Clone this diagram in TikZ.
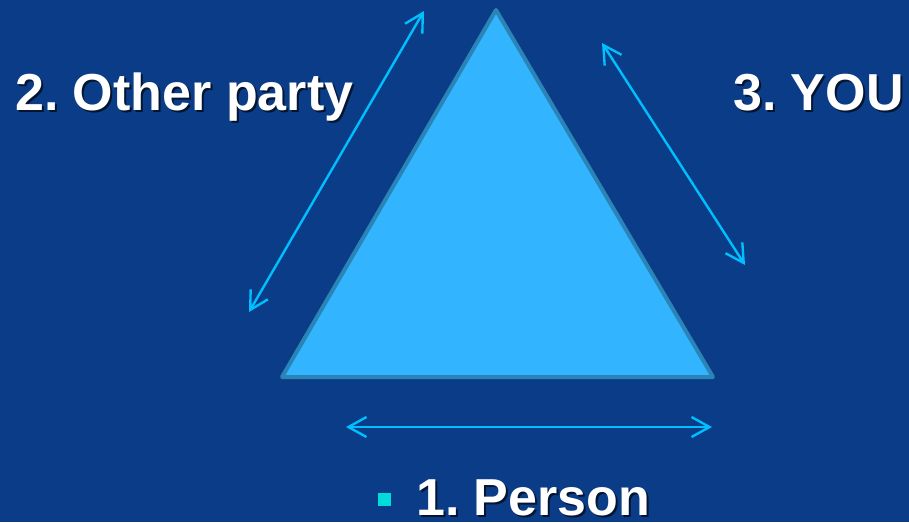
\documentclass[tikz,border=0pt]{standalone}
\usepackage{fontspec}
\setmainfont{Liberation Sans}
\usetikzlibrary{arrows.meta}
\definecolor{bgblue}{HTML}{0A3C87}
\definecolor{trifill}{HTML}{33B4FF}
\definecolor{triedge}{HTML}{2A84B8}
\definecolor{arrowcyan}{HTML}{00BFFF}
\definecolor{bulletcyan}{HTML}{00DCDC}
\newcommand{\shadowed}[1]{\makebox[0pt][l]{\hspace{2pt}\raisebox{-2pt}{\color{bgblue!35!black}#1}}#1}
\frenchspacing
\tikzset{
  bigtext/.style={
    anchor=base west, inner sep=0pt, text=white,
    font=\fontsize{52}{60}\selectfont\bfseries
  },
  twoway/.style={
    {Straight Barb[length=18pt,width=20pt]}-{Straight Barb[length=18pt,width=20pt]},
    line width=2.4pt, arrowcyan
  }
}
\begin{document}
\begin{tikzpicture}[x=1pt, y=-1pt,
  tri/.style={fill=trifill, draw=triedge, line width=4pt, line join=round},
  bullet/.style={rectangle, fill=bulletcyan, inner sep=0pt, minimum size=13pt}]
  \fill[bgblue] (0,0) rectangle (909,522);
  \useasboundingbox (0,0) rectangle (909,522);

  % triangle
  \coordinate (top)   at (496,10);
  \coordinate (right) at (713,377);
  \coordinate (left)  at (282,377);
  \draw[tri] (top) -- (right) -- (left) -- cycle;

  % arrows along the sides
  \coordinate (lA) at (249,312);
  \coordinate (lB) at (424,11);
  \coordinate (rA) at (602,43);
  \coordinate (rB) at (745,265);
  \coordinate (bA) at (346,427);
  \coordinate (bB) at (712,427);
  \foreach \f/\t in {lA/lB,rA/rB,bA/bB}
    \draw[twoway] (\f) -- (\t);

  % labels
  \node[bigtext] (other) at (15,110) {\shadowed{2. Other party}};
  \node[bigtext] (you)   at (733,110) {\shadowed{3. YOU}};
  \node[bullet]  (dot)   at (384.5,499.5) {};
  \node[bigtext] (person) at (416,515) {\shadowed{1. Person}};
\end{tikzpicture}
\end{document}
